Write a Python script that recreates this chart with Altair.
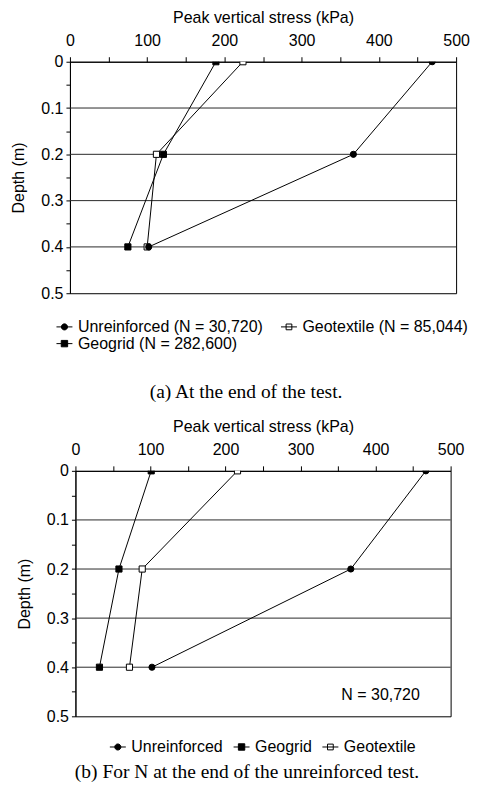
import altair as alt
import pandas as pd

# ---------------- data ----------------
depths = [0.0, 0.2, 0.4]

# panel (a): at the end of the test
a_labels = ["Unreinforced (N = 30,720)", "Geotextile (N = 85,044)", "Geogrid (N = 282,600)"]
a_unreinforced = [469, 367, 102]
a_geotextile = [224, 112, 100]
a_geogrid = [189, 121, 75]

# panel (b): for N at the end of the unreinforced test
b_labels = ["Unreinforced", "Geogrid", "Geotextile"]
b_unreinforced = [467, 367, 102]
b_geogrid = [101, 58, 32]
b_geotextile = [216, 89, 72]

b_note = ["N = 30,720"]
b_note_x = [459]
b_note_y = [0.457]

grid_depths = [0.1, 0.2, 0.3, 0.4]
x_ticks = [0, 50, 100, 150, 200, 250, 300, 350, 400, 450, 500]
y_ticks = [0, 0.05, 0.1, 0.15, 0.2, 0.25, 0.3, 0.35, 0.4, 0.45, 0.5]

FONT = "Liberation Sans"
SERIF = "Liberation Serif"

# marker styles per kind
KIND_SHAPE = {"unreinforced": "circle", "geogrid": "square", "geotextile": "square"}
KIND_FILL = {"unreinforced": "black", "geogrid": "black", "geotextile": "white"}
KIND_LEGEND_PATH = {
    "unreinforced": "M-1,0H1M0.38,0A0.38,0.38,0,1,1,-0.38,0A0.38,0.38,0,1,1,0.38,0Z",
    "geogrid": "M-1,0H1M-0.4,-0.4H0.4V0.4H-0.4Z",
    "geotextile": "M-1,0H1M-0.36,-0.36H0.36V0.36H-0.36Z",
}


def make_df(labels, kinds, values):
    rows = []
    # draw order: geotextile first, then geogrid, then unreinforced on top
    for kind in ["geotextile", "geogrid", "unreinforced"]:
        i = kinds.index(kind)
        for d, v in zip(depths, values[i]):
            rows.append({"series": labels[i], "lseries": labels[i], "depth": d, "stress": v})
    return pd.DataFrame(rows)


def panel(labels, kinds, values, width, height, columns, legend_x, legend_y, col_pad,
          caption, cap_offset, cap_dx, note=None):
    df = make_df(labels, kinds, values)
    xscale = alt.Scale(domain=[0, 500], nice=False, zero=False)
    yscale = alt.Scale(domain=[0, 0.5], reverse=True, nice=False)
    xaxis = alt.Axis(
        orient="top", title="Peak vertical stress (kPa)", values=x_ticks,
        labelExpr="datum.value % 100 == 0 ? datum.label : ''",
        labelFlush=False, labelOverlap=False, grid=False,
        tickSize=5, labelPadding=8, titlePadding=7,
    )
    yaxis = alt.Axis(
        title="Depth (m)", values=y_ticks,
        labelExpr="abs(datum.value * 10 - round(datum.value * 10)) < 0.001 ? format(datum.value, '.1~f') : ''",
        labelOverlap=False, grid=False, tickSize=4, labelPadding=3, titlePadding=14,
    )
    X = alt.X("stress:Q", scale=xscale, axis=xaxis)
    Y = alt.Y("depth:Q", scale=yscale, axis=yaxis)

    shape_range = [KIND_SHAPE[k] for k in kinds]
    fill_range = [KIND_FILL[k] for k in kinds]
    path_range = [KIND_LEGEND_PATH[k] for k in kinds]

    grid = alt.Chart(pd.DataFrame({"depth": grid_depths})).mark_rule(
        color="#2a2a2a", strokeWidth=1
    ).encode(y=alt.Y("depth:Q", scale=yscale, axis=yaxis))

    lines = alt.Chart(df).mark_line(color="black", strokeWidth=1, clip=True).encode(
        x=X, y=Y, detail="series:N", order="depth:Q"
    )

    points = alt.Chart(df).mark_point(
        filled=True, stroke="black", strokeWidth=1, size=38, opacity=1, clip=True
    ).encode(
        x=X, y=Y,
        shape=alt.Shape("series:N", scale=alt.Scale(domain=labels, range=shape_range), legend=None),
        fill=alt.Fill("series:N", scale=alt.Scale(domain=labels, range=fill_range), legend=None),
    )

    leg = alt.Legend(
        title=None, orient="none", legendX=legend_x, legendY=legend_y,
        direction="horizontal", columns=columns, symbolSize=256,
        symbolStrokeColor="black", symbolStrokeWidth=1, symbolOpacity=1,
        labelFont=FONT, labelFontSize=16, labelColor="black", labelLimit=400,
        columnPadding=col_pad, rowPadding=-6, labelOffset=5,
    )
    legend_layer = alt.Chart(df).mark_point(
        filled=False, strokeWidth=1, opacity=0, clip=True
    ).encode(
        x=X, y=Y,
        shape=alt.Shape("lseries:N", scale=alt.Scale(domain=labels, range=path_range), legend=leg),
        fill=alt.Fill("lseries:N", scale=alt.Scale(domain=labels, range=fill_range), legend=leg),
        stroke=alt.Stroke("lseries:N", scale=alt.Scale(domain=labels, range=["black"] * 3), legend=leg),
    )

    layers = [grid, lines, points, legend_layer]
    if note is not None:
        ndf = pd.DataFrame({"text": note[0], "stress": note[1], "depth": note[2]})
        layers.append(
            alt.Chart(ndf).mark_text(align="right", baseline="middle", font=FONT,
                                     fontSize=16, color="black").encode(
                x=X, y=Y, text="text:N")
        )

    return alt.layer(*layers).resolve_scale(
        shape="independent", fill="independent", stroke="independent"
    ).properties(
        width=width, height=height,
        title=alt.TitleParams(
            text=caption, orient="bottom", anchor="middle", frame="group",
            font=SERIF, fontSize=19.5, fontWeight="normal", color="black",
            offset=cap_offset, dx=cap_dx,
        ),
    )


a_kinds = ["unreinforced", "geotextile", "geogrid"]
b_kinds = ["unreinforced", "geogrid", "geotextile"]

chart_a = panel(a_labels, a_kinds, [a_unreinforced, a_geotextile, a_geogrid],
                387, 232, 2, -14, 257, 15, "(a) At the end of the test.", 31, -17)
chart_b = panel(b_labels, b_kinds, [b_unreinforced, b_geogrid, b_geotextile],
                376, 246, 3, 34, 268, 8, "(b) For N at the end of the unreinforced test.", 8, -16,
                note=(b_note, b_note_x, b_note_y))

chart = alt.vconcat(chart_a, chart_b, spacing=16, center=True).properties(
    padding={"left": 2, "top": 0, "right": 0, "bottom": 0}
).configure_view(
    stroke="black", strokeWidth=1
).configure_axis(
    labelFont=FONT, titleFont=FONT, labelFontSize=16, titleFontSize=16,
    titleFontWeight="normal", labelColor="black", titleColor="black",
    domainColor="black", tickColor="black", domainWidth=1, tickWidth=1,
).configure_legend(
    symbolOpacity=1
)

chart.save("out.html", embed_options={"renderer": "svg", "actions": False})
